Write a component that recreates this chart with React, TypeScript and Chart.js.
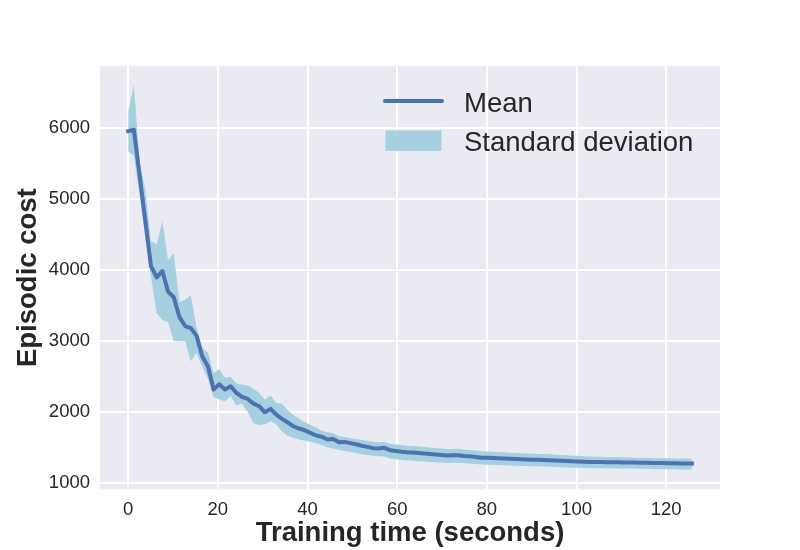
import React, { useEffect, useRef } from "react";
import { Chart, registerables } from "chart.js";

Chart.register(...registerables);

// Sampling interval between logged evaluations (seconds)
const SAMPLE_INTERVAL = 1.27;

const meanCost = [
  5950, 5970, 5330, 4690, 4050, 3890, 3980, 3690, 3610, 3330,
  3205, 3175, 3070, 2780, 2640, 2310, 2385, 2310, 2357, 2263,
  2207, 2178, 2112, 2075, 1990, 2038, 1958, 1897, 1849, 1793,
  1761, 1737, 1700, 1662, 1645, 1606, 1615, 1568, 1573, 1555,
  1540, 1518, 1503, 1485, 1480, 1489, 1455, 1445, 1435, 1427,
  1422, 1416, 1408, 1402, 1396, 1388, 1380, 1383, 1385, 1374,
  1370, 1360, 1350, 1348, 1346, 1342, 1338, 1334, 1331, 1328,
  1326, 1323, 1320, 1318, 1315, 1311, 1307, 1303, 1299, 1297,
  1294, 1291, 1289, 1288, 1287, 1286, 1285, 1284, 1282, 1281,
  1280, 1278, 1277, 1276, 1274, 1273, 1272, 1270, 1269, 1268,
];

const upperCost = [
  6230, 6600, 5520, 5130, 4400, 4360, 4680, 4130, 4235, 3540,
  3580, 3640, 3180, 2900, 2830, 2545, 2595, 2475, 2490, 2394,
  2380, 2366, 2320, 2263, 2169, 2225, 2122, 2112, 2019, 1950,
  1900, 1850, 1810, 1775, 1730, 1710, 1695, 1652, 1640, 1625,
  1612, 1600, 1590, 1575, 1568, 1573, 1545, 1535, 1528, 1520,
  1514, 1507, 1500, 1494, 1488, 1480, 1472, 1474, 1476, 1465,
  1460, 1450, 1440, 1437, 1434, 1430, 1426, 1421, 1418, 1414,
  1411, 1408, 1404, 1401, 1397, 1393, 1388, 1384, 1379, 1376,
  1372, 1368, 1365, 1363, 1361, 1359, 1357, 1355, 1352, 1350,
  1348, 1346, 1345, 1344, 1342, 1341, 1340, 1339, 1338, 1338,
];

const lowerCost = [
  5666, 5600, 5050, 4450, 3900, 3390, 3290, 3260, 2990, 2990,
  2990, 2710, 2830, 2640, 2460, 2200, 2170, 2145, 2216, 2085,
  2112, 1990, 1840, 1810, 1820, 1864, 1820, 1723, 1660, 1630,
  1606, 1590, 1575, 1555, 1530, 1495, 1480, 1458, 1445, 1430,
  1415, 1400, 1388, 1378, 1370, 1368, 1340, 1328, 1318, 1310,
  1306, 1300, 1295, 1290, 1286, 1280, 1275, 1278, 1280, 1272,
  1270, 1262, 1255, 1252, 1250, 1246, 1243, 1240, 1237, 1234,
  1232, 1229, 1227, 1225, 1222, 1219, 1216, 1212, 1209, 1208,
  1206, 1204, 1203, 1202, 1201, 1200, 1199, 1198, 1197, 1196,
  1195, 1193, 1192, 1191, 1189, 1188, 1187, 1185, 1184, 1183,
];

const xTickValues = [0, 20, 40, 60, 80, 100, 120];
const yTickValues = [1000, 2000, 3000, 4000, 5000, 6000];

const X_LABEL = "Training time (seconds)";
const Y_LABEL = "Episodic cost";
const MEAN_LABEL = "Mean";
const STD_LABEL = "Standard deviation";

const times = meanCost.map((_, i) => i * SAMPLE_INTERVAL);

const LINE_COLOR = "#4C72B0";
const BAND_COLOR = "#A6CFE0";
const TEXT_COLOR = "#262626";
const FONT = "'Liberation Sans', Arial, sans-serif";

const bgPlugin = {
  id: "plotBackground",
  beforeDraw(chart: any) {
    const { ctx, chartArea } = chart;
    ctx.save();
    ctx.fillStyle = "#EAEAF2";
    ctx.fillRect(chartArea.left, chartArea.top, chartArea.right - chartArea.left, chartArea.bottom - chartArea.top);
    ctx.restore();
  },
};

const legendPlugin = {
  id: "insideLegend",
  afterDraw(chart: any) {
    const { ctx, chartArea } = chart;
    const x0 = chartArea.left;
    const y0 = chartArea.top;
    const ds = chart.data.datasets;
    ctx.save();
    // line sample
    ctx.strokeStyle = LINE_COLOR;
    ctx.lineWidth = 4;
    ctx.lineCap = "round";
    ctx.beginPath();
    ctx.moveTo(x0 + 285, y0 + 35);
    ctx.lineTo(x0 + 342, y0 + 35);
    ctx.stroke();
    // patch sample
    ctx.fillStyle = BAND_COLOR;
    ctx.fillRect(x0 + 285.5, y0 + 64.5, 56, 20.5);
    // texts
    ctx.fillStyle = TEXT_COLOR;
    ctx.font = `27.5px ${FONT}`;
    ctx.textAlign = "left";
    ctx.textBaseline = "alphabetic";
    ctx.fillText(ds[0].label, x0 + 364, y0 + 45.5);
    ctx.fillText(ds[1].label, x0 + 364, y0 + 85);
    ctx.restore();
  },
};

export default function App() {
  const canvasRef = useRef<HTMLCanvasElement | null>(null);

  useEffect(() => {
    if (!canvasRef.current) return;
    const meanData = times.map((t, i) => ({ x: t, y: meanCost[i] }));
    const upperData = times.map((t, i) => ({ x: t, y: upperCost[i] }));
    const lowerData = times.map((t, i) => ({ x: t, y: lowerCost[i] }));

    const chart = new Chart(canvasRef.current, {
      type: "line",
      data: {
        datasets: [
          {
            label: MEAN_LABEL,
            data: meanData,
            borderColor: LINE_COLOR,
            borderWidth: 4,
            borderJoinStyle: "round",
            borderCapStyle: "square",
            pointRadius: 0,
            fill: false,
            tension: 0,
          },
          {
            label: STD_LABEL,
            data: upperData,
            borderWidth: 0,
            borderColor: "rgba(0,0,0,0)",
            backgroundColor: BAND_COLOR,
            pointRadius: 0,
            fill: "+1",
            tension: 0,
          },
          {
            label: "lower",
            data: lowerData,
            borderWidth: 0,
            borderColor: "rgba(0,0,0,0)",
            backgroundColor: BAND_COLOR,
            pointRadius: 0,
            fill: false,
            tension: 0,
          },
        ],
      },
      options: {
        responsive: false,
        animation: false,
        layout: { padding: { top: 66, right: 80, left: 0, bottom: 0 } },
        plugins: {
          legend: { display: false },
          tooltip: { enabled: false },
        },
        scales: {
          x: {
            type: "linear",
            min: -6.29,
            max: 132.0,
            afterBuildTicks: (s: any) => {
              s.ticks = xTickValues.map((v) => ({ value: v }));
            },
            afterFit: (s: any) => {
              s.height = 60.7;
            },
            grid: { color: "#FFFFFF", lineWidth: 2, drawTicks: false },
            border: { display: false },
            ticks: {
              color: TEXT_COLOR,
              padding: 10,
              font: { family: FONT, size: 18.5, lineHeight: 1.2 },
              maxRotation: 0,
              callback: (v: any) => String(v),
            },
            title: {
              display: true,
              text: X_LABEL,
              color: TEXT_COLOR,
              font: { family: FONT, size: 27.5, weight: "bold", lineHeight: 1.2 },
              padding: { top: 0, bottom: 0 },
            },
          },
          y: {
            type: "linear",
            min: 905,
            max: 6868,
            afterBuildTicks: (s: any) => {
              s.ticks = yTickValues.map((v) => ({ value: v }));
            },
            afterFit: (s: any) => {
              s.width = 100;
            },
            grid: { color: "#FFFFFF", lineWidth: 2, drawTicks: false },
            border: { display: false },
            ticks: {
              color: TEXT_COLOR,
              padding: 10,
              font: { family: FONT, size: 18.5, lineHeight: 1.2 },
              callback: (v: any) => String(v),
            },
            title: {
              display: true,
              text: Y_LABEL,
              color: TEXT_COLOR,
              font: { family: FONT, size: 27.5, weight: "bold", lineHeight: 1.2 },
              padding: { top: 12, bottom: 0 },
            },
          },
        },
      },
      plugins: [bgPlugin, legendPlugin],
    } as any);

    return () => chart.destroy();
  }, []);

  return (
    <div style={{ position: "absolute", left: 0, top: 0, width: 800, height: 550, background: "#FFFFFF" }}>
      <canvas ref={canvasRef} width={800} height={550} />
    </div>
  );
}
